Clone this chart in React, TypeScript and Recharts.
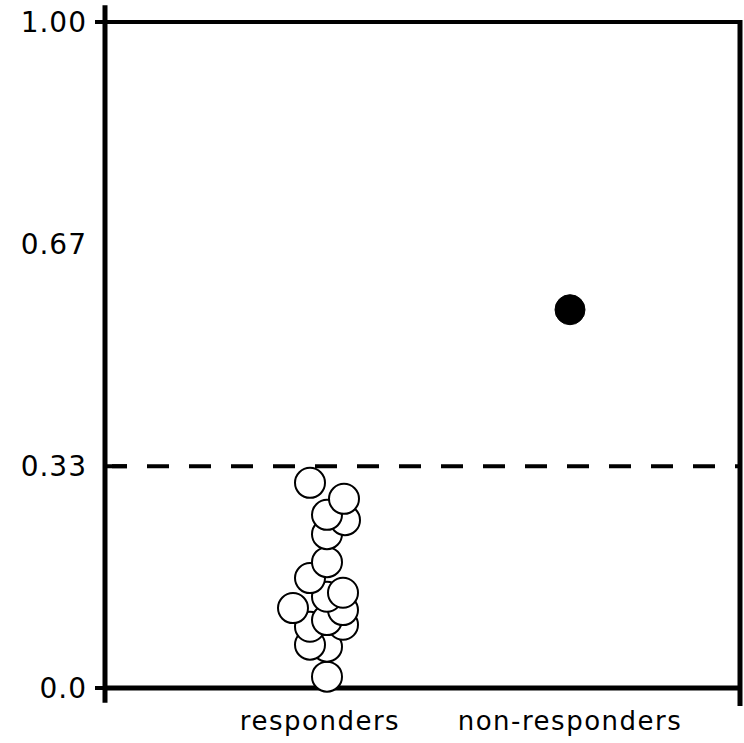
import {
  ReferenceLine,
  Scatter,
  ScatterChart,
  XAxis,
  YAxis,
} from 'recharts';

// jittered x position (1 = responders, 2 = non-responders) and fraction value,
// listed from the lowest value up so the higher circles sit on top
const responderX = [1.028, 1.028, 0.96, 0.96, 1.092, 1.028, 1.092, 0.892, 1.028, 1.092, 0.96, 1.028, 1.028, 1.1, 1.028, 1.096, 0.96];
const responderY = [0.017, 0.062, 0.065, 0.092, 0.095, 0.102, 0.117, 0.12, 0.137, 0.143, 0.165, 0.189, 0.231, 0.252, 0.26, 0.284, 0.308];
const nonResponderX = [2.0];
const nonResponderY = [0.568];

const categories = ['responders', 'non-responders'];
const yTicks = [0, 0.333, 0.667, 1];
const yTickLabels = ['0.0', '0.33', '0.67', '1.00'];
const threshold = 0.333;

const X_MIN = 0.14;
const X_MAX = 2.68;

const responders = responderX.map((x, i) => ({ x, y: responderY[i] }));
const nonResponders = nonResponderX.map((x, i) => ({ x, y: nonResponderY[i] }));

const FONT = '"DejaVu Sans", Verdana, sans-serif';

function YTick(props: any) {
  const { x, y, payload, index } = props;
  const label = yTickLabels[index] ?? String(payload.value);
  const outside = index === 0 || index === 3;
  const inside = index === 1;
  return (
    <g>
      {outside && <line x1={x - 2} x2={x + 15} y1={y} y2={y} stroke="#000" strokeWidth={4} />}
      {inside && <line x1={x + 15} x2={x + 30} y1={y} y2={y} stroke="#000" strokeWidth={4} />}
      <text
        x={x - 10}
        y={y}
        dy="0.36em"
        textAnchor="end"
        fontSize={28}
        letterSpacing={1}
        fontFamily={FONT}
        fill="#000"
      >
        {label}
      </text>
    </g>
  );
}

function XTick(props: any) {
  const { x, y, payload } = props;
  return (
    <text
      x={x}
      y={y + 34}
      textAnchor="middle"
      fontSize={26}
      letterSpacing={1.5}
      fontFamily={FONT}
      fill="#000"
    >
      {categories[payload.value - 1]}
    </text>
  );
}

const openCircle = (props: any) => (
  <circle cx={props.cx} cy={props.cy} r={15} fill="#fff" stroke="#000" strokeWidth={2} />
);
const filledCircle = (props: any) => (
  <circle cx={props.cx} cy={props.cy} r={15} fill="#000" stroke="#000" strokeWidth={1} />
);

export default function App() {
  return (
    <div style={{ position: 'absolute', left: 0, top: 0, background: '#fff' }}>
      <ScatterChart
        width={744}
        height={743}
        margin={{ top: 22, right: 4, bottom: 0, left: 0 }}
      >
        <XAxis
          type="number"
          dataKey="x"
          domain={[X_MIN, X_MAX]}
          ticks={[1, 2]}
          tick={<XTick />}
          tickLine={false}
          axisLine={{ stroke: '#000', strokeWidth: 5 }}
          height={55}
          allowDataOverflow
        />
        <YAxis
          type="number"
          dataKey="y"
          domain={[0, 1]}
          ticks={yTicks}
          tick={<YTick />}
          tickLine={false}
          axisLine={false}
          width={105}
          interval={0}
        />
        <ReferenceLine y={1} stroke="#000" strokeWidth={4} />
        <ReferenceLine
          segment={[{ x: X_MIN, y: -0.022 }, { x: X_MIN, y: 1.025 }]}
          stroke="#000"
          strokeWidth={5}
          ifOverflow="visible"
        />
        <ReferenceLine
          segment={[{ x: X_MAX, y: -0.027 }, { x: X_MAX, y: 1.003 }]}
          stroke="#000"
          strokeWidth={5}
          ifOverflow="visible"
        />
        <ReferenceLine y={threshold} stroke="#000" strokeWidth={4} strokeDasharray="22 20" />
        <Scatter data={responders} shape={openCircle} isAnimationActive={false} />
        <Scatter data={nonResponders} shape={filledCircle} isAnimationActive={false} />
      </ScatterChart>
    </div>
  );
}
